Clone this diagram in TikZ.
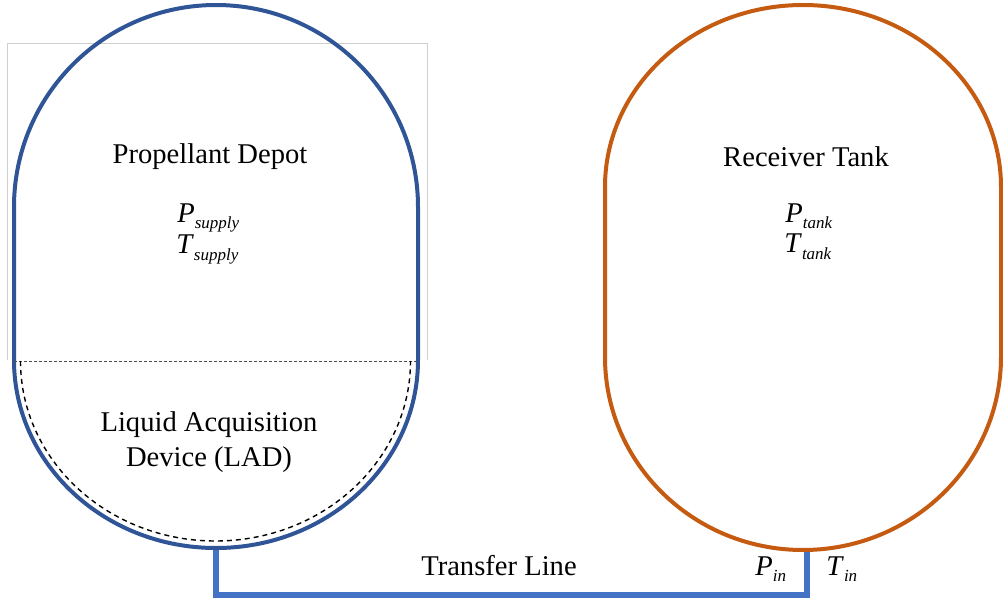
\documentclass[tikz,border=0pt]{standalone}
\usepackage{fontspec}
\setmainfont{Liberation Serif}
\usepackage{xcolor}
\usepackage{tikz}
\usetikzlibrary{calc}
\definecolor{depotblue}{HTML}{2F5597}
\definecolor{tankorange}{HTML}{C55A11}
\definecolor{lineblue}{HTML}{4472C4}
\definecolor{framegray}{HTML}{CFCFCF}
\tikzset{depot/.style={line width=2pt,depotblue},
  receiver/.style={line width=2pt,tankorange},
  feedline/.style={line width=3pt,lineblue,line join=miter},
  lad/.style={line width=0.7pt,dash pattern=on 2.5pt off 2pt},
  label/.style={font=\fontsize{14.3}{17.5}\selectfont,inner sep=0pt,align=center},
  varlabel/.style={font=\fontsize{14.3}{17.5}\selectfont,inner sep=0pt,anchor=base west}}
\newcommand{\tvar}[3][3pt]{\textit{#2}\raisebox{-#1}{\fontsize{8.5}{10}\selectfont\textit{#3}}}

\begin{document}
\begin{tikzpicture}[x=0.5pt,y=0.5pt]
\useasboundingbox (0,0) rectangle (1003,-600);
\coordinate (depotbot) at (216,-548); \coordinate (tankbot) at (807,-550);
\draw[framegray,line width=0.5pt] (7,-360) -- (7,-43) -- (427,-43) -- (427,-360);
\draw[feedline] (depotbot) -- (216,-595) -- (807,-595) -- (tankbot);
\draw[depot] (14,-360) -- (14,-207) arc[start angle=180,end angle=0,x radius=202,y radius=202] -- (418,-360) arc[start angle=0,end angle=-180,x radius=202,y radius=188] -- cycle;
\draw[receiver] (605,-357) -- (605,-187) arc[start angle=180,end angle=0,x radius=198,y radius=182] -- (1001,-357) arc[start angle=0,end angle=-180,x radius=198,y radius=193] -- cycle;
\draw[black!70,line width=0.5pt,dash pattern=on 1.5pt off 1pt] (14,-361) -- (418,-361);
\draw[lad] (20.5,-361) arc[start angle=180,end angle=360,x radius=195,y radius=180];
\node[label] (depotname) at (210,-157) {Propellant Depot};
\node[varlabel] (psupply) at (177,-222) {\tvar{P}{supply}};
\node[varlabel] (tsupply) at (176,-253) {\tvar[3.5pt]{T}{supply}};
\node[label] (ladname) at (209,-442) {Liquid Acquisition\\Device (LAD)};
\node[label] (tankname) at (806,-157) {Receiver Tank};
\node[varlabel] (ptank) at (785,-222) {\tvar{P}{tank}};
\node[varlabel] (ttank) at (784,-252) {\tvar[3.5pt]{T}{tank}};
\node[label,anchor=base] (linename) at (499,-575) {Transfer Line};
\node[varlabel] (pin) at (755,-575) {\tvar{P}{in}};
\node[varlabel] (tin) at (826,-575) {\tvar{T}{in}};
\end{tikzpicture}
\end{document}
